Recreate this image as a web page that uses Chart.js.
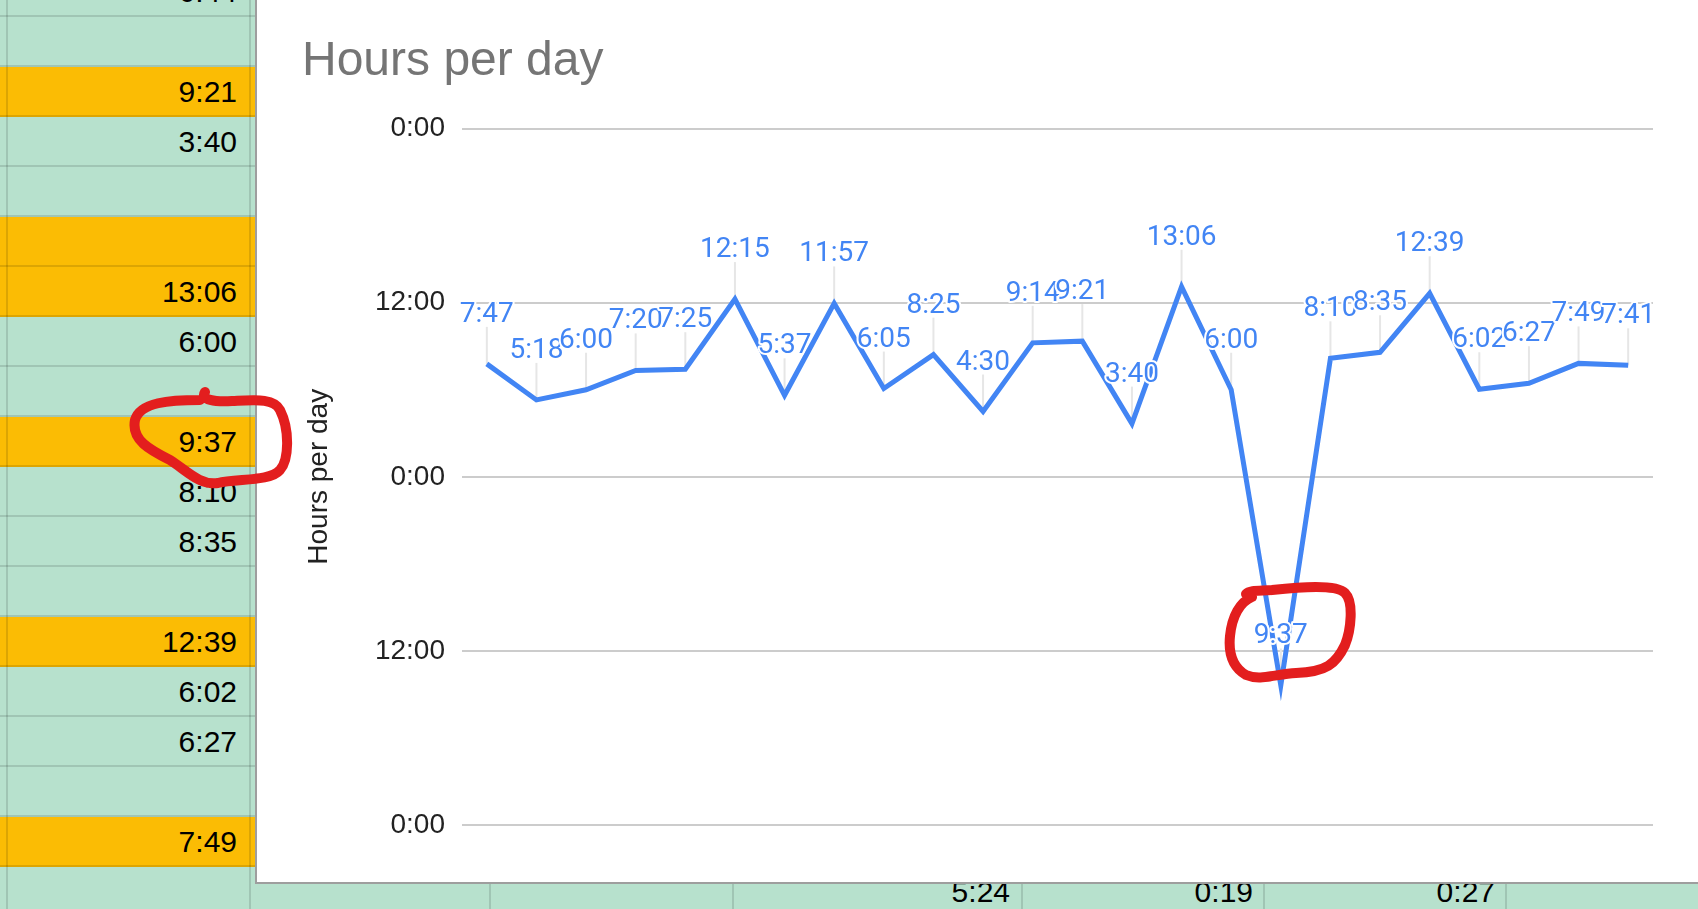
<!DOCTYPE html>
<html>
<head>
<meta charset="utf-8">
<script src="https://cdn.jsdelivr.net/npm/chart.js@4.4.1/dist/chart.umd.min.js"></script>
<style>
  html, body { margin: 0; padding: 0; }
  body { width: 1698px; height: 909px; overflow: hidden; position: relative; background: #b7e1cd; font-family: Arial, 'Liberation Sans', sans-serif; }
  .row { position: absolute; left: 0; width: 1698px; height: 50px; box-sizing: border-box; border-bottom: 2px solid rgba(0,0,0,0.12); }
  .row.hi { background: #fbbc04; }
  .cell { position: absolute; top: 0; height: 48px; line-height: 50px; font-size: 30px; color: #000; text-align: right; }
  .vline { position: absolute; top: 0; width: 2px; height: 909px; background: rgba(0,0,0,0.12); }
  #box { position: absolute; left: 255px; top: 0; width: 1443px; height: 884px; box-sizing: border-box; background: #fff; border-left: 2px solid #9e9e9e; border-bottom: 2px solid #9e9e9e; }
  #wrap { position: relative; width: 1441px; height: 882px; }
  #ink { position: absolute; left: 0; top: 0; pointer-events: none; }
</style>
</head>
<body>
<div id="sheet"></div>
<div id="box"><div id="wrap"><canvas id="miGrafico"></canvas></div></div>
<svg id="ink" width="1698" height="909">
  <path d="M 205 392 C 200 400, 215 402, 232 401 C 255 400, 274 398, 280 410 C 290 430, 289 460, 280 470 C 270 482, 236 478, 218 483 C 200 486, 186 470, 170 460 C 150 450, 131 440, 135 420 C 140 402, 170 400, 200 400"
        fill="none" stroke="#e31e1e" stroke-width="10" stroke-linecap="round" stroke-linejoin="round"/>
  <path d="M 1246 594 C 1250 590, 1260 591, 1272 590 C 1300 587, 1336 584, 1345 593 C 1354 602, 1351 630, 1345 645 C 1336 664, 1326 672, 1296 673 C 1276 674, 1260 681, 1246 675 C 1234 668, 1228 656, 1230 636 C 1232 616, 1240 602, 1252 597"
        fill="none" stroke="#e31e1e" stroke-width="10" stroke-linecap="round" stroke-linejoin="round"/>
</svg>
<script>
// spreadsheet column next to the chart: [text, highlighted]
const sheetCells = [
  ['6:44', false], ['', false], ['9:21', true], ['3:40', false], ['', false],
  ['', true], ['13:06', true], ['6:00', false], ['', false], ['9:37', true],
  ['8:10', false], ['8:35', false], ['', false], ['12:39', true], ['6:02', false],
  ['6:27', false], ['', false], ['7:49', true], ['', false]
];
const bottomCells = ['5:24', '0:19', '0:27'];

// chart data
const days = ['1', '2', '3', '4', '5', '6', '7', '8', '9', '10', '11', '12',
              '13', '14', '15', '16', '17', '18', '19', '20', '21', '22', '23', '24'];
const durations = ['7:47', '5:18', '6:00', '7:20', '7:25', '12:15', '5:37', '11:57',
                   '6:05', '8:25', '4:30', '9:14', '9:21', '3:40', '13:06', '6:00',
                   '-14:23', '8:10', '8:35', '12:39', '6:02', '6:27', '7:49', '7:41'];
const yTicks = [-24, -12, 0, 12, 24];

function toHours(s) {
  const neg = s[0] === '-';
  const [h, m] = s.replace('-', '').split(':').map(Number);
  const v = h + m / 60;
  return neg ? -v : v;
}
function clock(v) {
  let mins = Math.round(v * 60);
  mins = ((mins % 1440) + 1440) % 1440;
  return Math.floor(mins / 60) + ':' + String(mins % 60).padStart(2, '0');
}
const hours = durations.map(toHours);

// build the sheet behind the chart
const sheet = document.getElementById('sheet');
sheetCells.forEach(([text, hi], i) => {
  const row = document.createElement('div');
  row.className = 'row' + (hi ? ' hi' : '');
  row.style.top = (-33.3 + 50 * i) + 'px';
  const cell = document.createElement('div');
  cell.className = 'cell';
  cell.style.left = '0px';
  cell.style.width = '237px';
  cell.textContent = text;
  row.appendChild(cell);
  if (i === sheetCells.length - 1) {
    const rights = [1010, 1253, 1495];
    bottomCells.forEach((t, j) => {
      const c = document.createElement('div');
      c.className = 'cell';
      c.style.left = (rights[j] - 200) + 'px';
      c.style.width = '200px';
      c.textContent = t;
      row.appendChild(c);
    });
  }
  sheet.appendChild(row);
});
[7, 250, 490, 733, 1022, 1264, 1506].forEach(x => {
  const v = document.createElement('div');
  v.className = 'vline';
  v.style.left = (x - 1) + 'px';
  sheet.appendChild(v);
});

// leader lines and value labels like the sheets chart
const pointLabels = {
  id: 'pointLabels',
  beforeDatasetsDraw(chart) {
    const { ctx } = chart;
    const meta = chart.getDatasetMeta(0);
    ctx.save();
    ctx.strokeStyle = '#e6e6e6';
    ctx.lineWidth = 2;
    meta.data.forEach(p => {
      ctx.beginPath();
      ctx.moveTo(p.x, p.y);
      ctx.lineTo(p.x, p.y - 37);
      ctx.stroke();
    });
    ctx.restore();
  },
  afterDatasetsDraw(chart) {
    const { ctx } = chart;
    const meta = chart.getDatasetMeta(0);
    ctx.save();
    ctx.font = '28px Roboto';
    ctx.textAlign = 'center';
    ctx.textBaseline = 'alphabetic';
    ctx.lineJoin = 'round';
    ctx.lineWidth = 4;
    ctx.strokeStyle = '#ffffff';
    ctx.fillStyle = '#4285f4';
    meta.data.forEach((p, i) => {
      const t = clock(hours[i]);
      ctx.strokeText(t, p.x, p.y - 42);
      ctx.fillText(t, p.x, p.y - 42);
    });
    ctx.restore();
  }
};

const ctx = document.getElementById('miGrafico');

const data = {
  labels: days,
  datasets: [
    {
      label: 'Hours per day',
      data: hours,
      borderColor: '#4285f4',
      backgroundColor: '#4285f4',
      borderWidth: 5,
      pointRadius: 0,
      tension: 0,
      fill: false,
    },
  ],
};

const options = {
  responsive: true,
  maintainAspectRatio: false,
  animation: false,
  layout: { padding: { left: 45, right: 45, top: 0, bottom: 57 } },
  plugins: {
    legend: { display: false },
    tooltip: { enabled: false },
    title: {
      display: true,
      text: 'Hours per day',
      align: 'start',
      color: '#757575',
      font: { family: "Arial, 'Liberation Sans'", size: 48, weight: 'normal' },
      padding: { top: 33, bottom: 38 },
    },
  },
  scales: {
    x: {
      display: false,
      offset: true,
    },
    y: {
      min: -24,
      max: 24,
      afterBuildTicks(axis) {
        axis.ticks = yTicks.map(v => ({ value: v }));
      },
      afterFit(axis) {
        axis.width = 160;
      },
      border: { display: false },
      grid: { color: '#cccccc', lineWidth: 2, drawTicks: false },
      ticks: {
        padding: 17,
        color: '#222222',
        font: { family: "Arial, 'Liberation Sans'", size: 28 },
        callback: v => clock(v),
      },
      title: {
        display: true,
        text: 'Hours per day',
        color: '#222222',
        font: { family: "Arial, 'Liberation Sans'", size: 28 },
        padding: 0,
      },
    },
  },
};

const myChart = new Chart(ctx, {
  type: 'line',
  data,
  options,
  plugins: [pointLabels],
});
</script>
</body>
</html>
